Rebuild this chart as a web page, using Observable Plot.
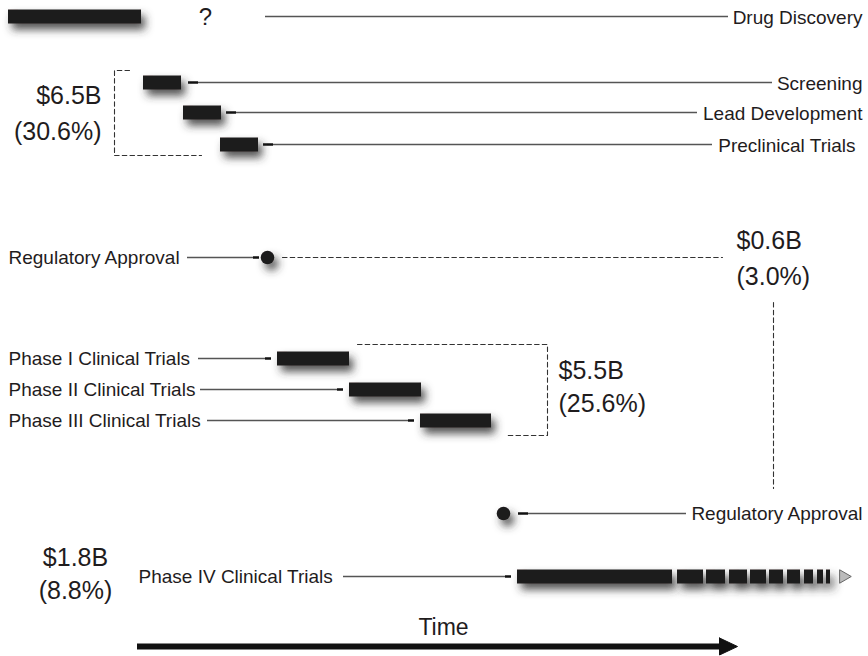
<!DOCTYPE html>
<html>
<head>
<meta charset="utf-8">
<script src="https://cdn.jsdelivr.net/npm/d3@7"></script>
<script src="https://cdn.jsdelivr.net/npm/@observablehq/plot@0.6"></script>
<style>
  html, body { margin: 0; padding: 0; background: #fff; }
  svg { display: block; }
</style>
</head>
<body>
<div id="chart"></div>
<script>
// ---------------- DATA ----------------
// Timeline stages: start/end along the time axis, lane = row position
const stageNames = ["Drug Discovery", "Screening", "Lead Development", "Preclinical Trials",
  "Phase I Clinical Trials", "Phase II Clinical Trials", "Phase III Clinical Trials", "Phase IV Clinical Trials"];
const stageStart = [8, 143, 183, 220, 277, 349, 420, 517];
const stageEnd   = [141, 181, 221, 258, 349, 421, 491, 672];
const stageLane  = [16, 82, 112, 144, 358, 389, 420, 576];

// Phase IV continues indefinitely (broken tail)
const phase4TailStart = [677, 706, 729, 750, 769, 787, 804, 817, 826];
const phase4TailEnd   = [703, 725, 747, 766, 783, 800, 813, 823, 830];
const phase4TailTip   = 843;

// Regulatory approval milestones
const approvalNames = ["Regulatory Approval", "Regulatory Approval"];
const approvalTime  = [267, 503];
const approvalLane  = [257, 513];

// Costs per group
const costAmounts = ["$6.5B", "$0.6B", "$5.5B", "$1.8B"];
const costShares  = ["(30.6%)", "(3.0%)", "(25.6%)", "(8.8%)"];

// Time arrow
const timeLabel = "Time";
const timeStart = 137, timeEnd = 737, timeLane = 646;

// ---------------- LAYOUT ----------------
const W = 868, H = 656;
const FONT = "'Liberation Sans', Arial, Helvetica, sans-serif";
const INK = "#1f1c1d";
const BAR_W = 14;

// label placement per stage: side, anchor x
const stageLabelSide = ["end", "end", "end", "end", "start", "start", "start", "start"];
const stageLabelX    = [862, 862, 862, 855, 8, 8, 8, 138];
// connector extents (label-side end)
const stageConnFrom = [265, 188, 226, 263, 198, 200, 207, 343];
const stageConnTo   = [728, 772, 697, 712, 271, 343, 414, 511];

const approvalLabelSide = ["start", "end"];
const approvalLabelX = [8, 862];
const approvalConnFrom = [187, 518];
const approvalConnTo = [259, 686];

const costX = [101, 736, 558, 75];
const costAnchor = ["end", "start", "start", "middle"];
const costY1 = [95, 240, 370, 557];
const costY2 = [131, 276, 403, 590];

// ---------------- TABLES ----------------
const stages = stageNames.map((name, i) => ({
  name, start: stageStart[i], end: stageEnd[i], lane: stageLane[i],
  side: stageLabelSide[i], lx: stageLabelX[i],
  c1: stageConnFrom[i], c2: stageConnTo[i]
}));
const tail = phase4TailStart.map((s, i) => ({start: s, end: phase4TailEnd[i], lane: stageLane[7]}));
const approvals = approvalNames.map((name, i) => ({
  name, time: approvalTime[i], lane: approvalLane[i],
  side: approvalLabelSide[i], lx: approvalLabelX[i],
  c1: approvalConnFrom[i], c2: approvalConnTo[i]
}));
const costs = costAmounts.map((a, i) => ({
  amount: a, share: costShares[i], x: costX[i], anchor: costAnchor[i], y1: costY1[i], y2: costY2[i]
}));
const connectors = [...stages, ...approvals];
// dark end piece of each connector, next to the bar/dot
const connEnds = connectors.map(d => {
  const nearStart = d.side === "end"; // label on the right -> item at left end
  return nearStart ? {lane: d.lane, a: d.c1, b: d.c1 + 10} : {lane: d.lane, a: d.c2 - 6, b: d.c2};
});

// dashed guides (cost groupings)
const bracket1 = [[129, 70], [114, 70], [114, 155], [201, 155]];
const bracket2 = [[357, 344], [547, 344], [547, 435], [506, 435]];
const guideApproval = [[282, approvalLane[0]], [722, approvalLane[0]]];
const guideApprovalV = [[773, 302], [773, 488]];

const headLen = 18, headHalf = 8.5;
const timeHead = [[timeEnd - headLen, timeLane - headHalf], [timeEnd, timeLane], [timeEnd - headLen, timeLane + headHalf], [timeEnd - headLen, timeLane - headHalf]];

const dash = "4.5,3.2";
const guideStyle = {stroke: "#333", strokeWidth: 1.1, strokeDasharray: dash};

const chart = Plot.plot({
  width: W, height: H, margin: 0,
  x: {domain: [0, W], range: [0, W], axis: null},
  y: {domain: [0, H], range: [0, H], axis: null},
  style: {fontFamily: FONT, background: "#fff", color: INK},
  marks: [
    // dashed guides
    Plot.line(bracket1, {x: d => d[0], y: d => d[1], ...guideStyle}),
    Plot.line(bracket2, {x: d => d[0], y: d => d[1], ...guideStyle}),
    Plot.line(guideApproval, {x: d => d[0], y: d => d[1], ...guideStyle}),
    Plot.line(guideApprovalV, {x: d => d[0], y: d => d[1], ...guideStyle}),
    // connectors
    Plot.ruleY(connectors, {y: "lane", x1: "c1", x2: "c2", stroke: "#555", strokeWidth: 1.3}),
    Plot.ruleY(connEnds.slice(1), {y: "lane", x1: "a", x2: "b", stroke: "#111", strokeWidth: 2.4}),
    // bars
    Plot.ruleY(stages, {y: "lane", x1: "start", x2: "end", stroke: INK, strokeWidth: BAR_W, ariaDescription: "shadowed"}),
    Plot.ruleY(tail, {y: "lane", x1: "start", x2: "end", stroke: INK, strokeWidth: BAR_W, ariaDescription: "shadowed"}),
    Plot.dot([phase4TailTip], {x: d => d, y: stageLane[7], symbol: "triangle", rotate: 90, r: 5, fill: "#bbb", stroke: "#666", strokeWidth: 1}),
    // approvals
    Plot.dot(approvals, {x: "time", y: "lane", r: 6.8, fill: INK, stroke: "none", ariaDescription: "shadowed"}),
    // labels
    Plot.text(stages, {filter: d => d.side === "end", x: "lx", y: d => d.lane + 1, text: "name", textAnchor: "end", fontSize: 19, fill: INK}),
    Plot.text(stages, {filter: d => d.side === "start", x: "lx", y: "lane", text: "name", textAnchor: "start", fontSize: 19, fill: INK}),
    Plot.text(approvals, {filter: d => d.side === "end", x: "lx", y: "lane", text: "name", textAnchor: "end", fontSize: 19, fill: INK}),
    Plot.text(approvals, {filter: d => d.side === "start", x: "lx", y: "lane", text: "name", textAnchor: "start", fontSize: 19, fill: INK}),
    Plot.text(["?"], {x: 205, y: stageLane[0] + 1, text: d => d, fontSize: 24, fill: INK}),
    // costs
    ...["end", "start", "middle"].flatMap(a => [
      Plot.text(costs, {filter: d => d.anchor === a, x: "x", y: "y1", text: "amount", textAnchor: a, fontSize: 25, fill: INK}),
      Plot.text(costs, {filter: d => d.anchor === a, x: "x", y: "y2", text: "share", textAnchor: a, fontSize: 25, fill: INK})
    ]),
    // time arrow
    Plot.ruleY([timeLane], {x1: timeStart, x2: timeEnd - headLen + 1, stroke: "#111", strokeWidth: 6}),
    Plot.line(timeHead, {x: d => d[0], y: d => d[1], fill: "#111", stroke: "#111", strokeWidth: 1}),
    Plot.text([timeLabel], {x: 443, y: 627, text: d => d, fontSize: 23, fill: INK})
  ]
});

// soft drop shadow like the original
const svg = d3.select(chart);
const defs = svg.insert("defs", ":first-child");
const f = defs.append("filter").attr("id", "shadow").attr("filterUnits", "userSpaceOnUse")
  .attr("x", 0).attr("y", 0).attr("width", W).attr("height", H);
f.append("feDropShadow").attr("dx", 4).attr("dy", 6).attr("stdDeviation", 4)
  .attr("flood-color", "#333").attr("flood-opacity", 0.85);
svg.selectAll("g[aria-description='shadowed']").attr("filter", "url(#shadow)");

document.getElementById("chart").appendChild(chart);
</script>
</body>
</html>
